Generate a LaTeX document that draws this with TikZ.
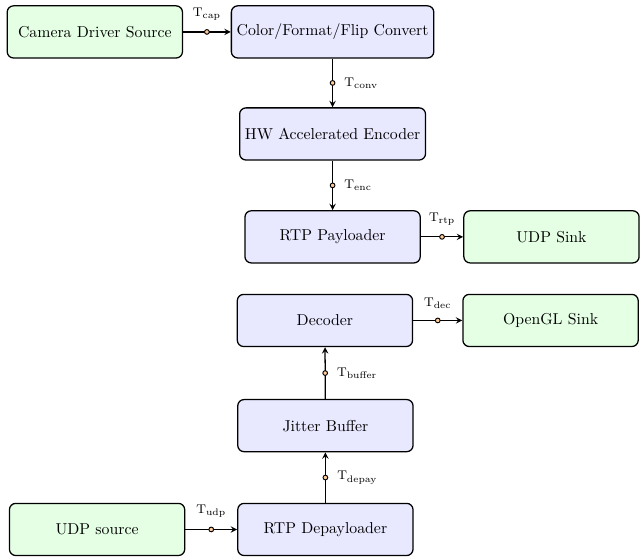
\documentclass[tikz,border=0pt]{standalone}
\usepackage{xcolor}
\usepackage{tikz}
\usetikzlibrary{calc}
\tikzset{>=stealth}

\tikzset{
  block/.style={draw, thick, rounded corners=4pt, minimum width=3.9cm, minimum height=1.16cm, align=center},
  srcsink/.style={block, fill=green!10},
  stage/.style={block, fill=blue!9},
  flow/.style={->, thick},
  tap/.style={circle, draw, semithick, fill=orange!40, inner sep=0pt, minimum size=3pt},
  tlbl/.style={font=\footnotesize, label distance=2pt}
}

\begin{document}
\begin{tikzpicture}
        \useasboundingbox (0,0) rectangle (14.24,-12.41);

        % sender pipeline
        \node[srcsink] (cam) at (2.11,-0.71) {Camera Driver Source};
        \node[stage] (conv) at (7.40,-0.71) {Color/Format/Flip Convert};
        \node[stage] (enc) at (7.40,-2.98) {HW Accelerated Encoder};
        \node[stage] (pay) at (7.40,-5.27) {RTP Payloader};
        \node[srcsink] (usink) at (12.27,-5.27) {UDP Sink};

        % receiver pipeline
        \node[stage] (dec) at (7.23,-7.13) {Decoder};
        \node[srcsink] (gl) at (12.25,-7.13) {OpenGL Sink};
        \node[stage] (jit) at (7.24,-9.47) {Jitter Buffer};
        \node[stage] (depay) at (7.24,-11.78) {RTP Depayloader};
        \node[srcsink] (usrc) at (2.16,-11.78) {UDP source};

        % timestamps on the links
        \draw[flow] (cam) -- node[tap, label={[tlbl]above:$\mathrm{T}_{\mathrm{cap}}$}] (tcap) {} (conv);
        \draw[flow] (conv) -- node[tap, label={[tlbl]right:$\mathrm{T}_{\mathrm{conv}}$}] (tconv) {} (enc);
        \draw[flow] (enc) -- node[tap, label={[tlbl]right:$\mathrm{T}_{\mathrm{enc}}$}] (tenc) {} (pay);
        \draw[flow] (pay) -- node[tap, label={[tlbl]above:$\mathrm{T}_{\mathrm{rtp}}$}] (trtp) {} (usink);

        \draw[flow] (usrc) -- node[tap, label={[tlbl]above:$\mathrm{T}_{\mathrm{udp}}$}] (tudp) {} (depay);
        \draw[flow] (depay) -- node[tap, label={[tlbl]right:$\mathrm{T}_{\mathrm{depay}}$}] (tdepay) {} (jit);
        \draw[flow] (jit) -- node[tap, label={[tlbl]right:$\mathrm{T}_{\mathrm{buffer}}$}] (tbuf) {} (dec);
        \draw[flow] (dec) -- node[tap, label={[tlbl]above:$\mathrm{T}_{\mathrm{dec}}$}] (tdec) {} (gl);

        \end{tikzpicture}
\end{document}
